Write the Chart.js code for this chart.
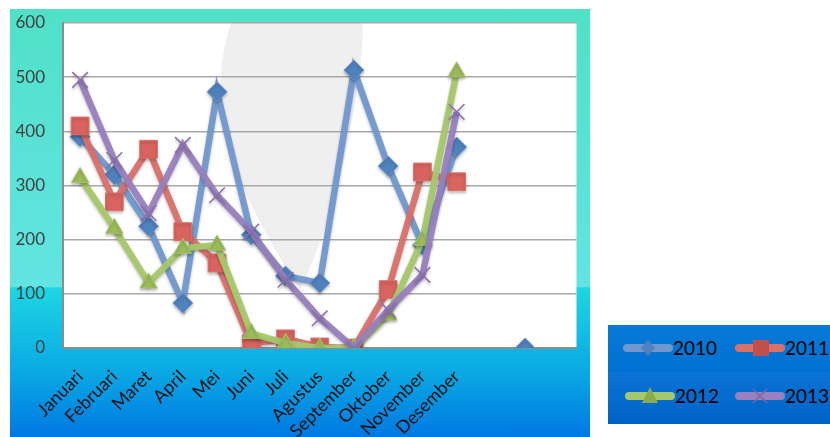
<!DOCTYPE html>
<html lang="id">
<head>
<meta charset="UTF-8">
<title>Grafik</title>
<style>
    body { margin: 0; width: 830px; height: 437px; background: #fff; position: relative; overflow: hidden; font-family: Lato, "Open Sans", sans-serif; }
    #panel {
        position: absolute; left: 10px; top: 9px; width: 580px; height: 428px;
        background: linear-gradient(to bottom, #50e0c8 0%, #62e4e2 65%, #1ed6e2 65.1%, #0aa8e4 85%, #0078e2 100%);
    }
    #myChart { position: absolute; left: 10px; top: 9px; }
    #legend {
        position: absolute; left: 608px; top: 325px; width: 222px; height: 99px;
        background: linear-gradient(to bottom, #0a7ad8 0%, #0070d2 47%, #0a74d6 48%, #0062c6 100%);
    }
    .item { position: absolute; height: 24px; font-size: 19px; color: #000; line-height: 24px; }
    .item svg { position: absolute; left: 0; top: 0; }
    .item span { position: absolute; left: 50px; top: 0; }
</style>
</head>
<body>
<div id="panel"></div>
<canvas id="myChart" width="580" height="428"></canvas>
<div id="legend"></div>

<script src="https://cdn.jsdelivr.net/npm/chart.js"></script>
<script>
    const labels = ['Januari', 'Februari', 'Maret', 'April', 'Mei', 'Juni', 'Juli', 'Agustus', 'September', 'Oktober', 'November', 'Desember', '', '', ''];
    const s2010 = [390, 320, 225, 83, 473, 209, 133, 120, 513, 336, 190, 371, null, 0, null];
    const s2011 = [410, 270, 367, 215, 157, 8, 17, 2, 0, 108, 325, 307, null, null, null];
    const s2012 = [315, 221, 120, 184, 190, 27, 9, 0, 0, 61, 199, 510, null, null, null];
    const s2013 = [495, 347, 249, 375, 282, 215, 126, 55, 0, 70, 135, 436, null, null, null];
    const seriesNames = ['2010', '2011', '2012', '2013'];
    const yTicks = [0, 100, 200, 300, 400, 500, 600];

    // white plot area + faint grey shape behind the lines
    const plotBg = {
        id: 'plotBg',
        beforeDraw(chart) {
            const { ctx, chartArea: a } = chart;
            ctx.save();
            ctx.fillStyle = '#ffffff';
            ctx.fillRect(a.left, a.top, a.right - a.left, a.bottom - a.top);
            ctx.beginPath();
            ctx.rect(a.left, a.top, a.right - a.left, a.bottom - a.top);
            ctx.clip();
            ctx.fillStyle = '#efefef';
            ctx.beginPath();
            ctx.moveTo(235, -18);
            ctx.bezierCurveTo(212, 20, 200, 90, 222, 150);
            ctx.bezierCurveTo(240, 200, 270, 250, 290, 281);
            ctx.bezierCurveTo(310, 240, 335, 170, 350, 60);
            ctx.bezierCurveTo(355, 20, 352, 0, 350, -18);
            ctx.closePath();
            ctx.fill();
            ctx.restore();
        },
        beforeDatasetsDraw(chart) {
            const ctx = chart.ctx;
            ctx.save();
            ctx.shadowColor = 'rgba(0,0,0,0.25)';
            ctx.shadowBlur = 3;
            ctx.shadowOffsetY = 2;
        },
        afterDatasetsDraw(chart) {
            chart.ctx.restore();
        }
    };

    function ds(name, data, line, point, style, radius, order) {
        return {
            label: name, data: data, order: order,
            borderColor: line, borderWidth: 6.5,
            pointStyle: style, pointRadius: radius, pointHoverRadius: radius,
            pointBackgroundColor: point, pointBorderColor: style === 'crossRot' ? point : line,
            pointBorderWidth: style === 'crossRot' ? 1.5 : 1,
            tension: 0, spanGaps: false, fill: false
        };
    }

    const ctx = document.getElementById('myChart');
    const myChart = new Chart(ctx, {
        type: 'line',
        data: {
            labels: labels,
            datasets: [
                ds(seriesNames[0], s2010, 'rgba(113,152,206,0.95)', '#4f81bd', 'rectRot', 10, 4),
                ds(seriesNames[1], s2011, 'rgba(218,112,106,0.95)', '#d9635e', 'rect', 12.5, 3),
                ds(seriesNames[2], s2012, 'rgba(166,200,108,0.95)', '#9bbb59', 'triangle', 10, 2),
                ds(seriesNames[3], s2013, 'rgba(152,128,190,0.95)', '#8a6fb0', 'crossRot', 11, 1)
            ]
        },
        options: {
            responsive: false,
            animation: false,
            layout: { padding: { left: 0, top: 14, right: 9, bottom: 0 } },
            plugins: { legend: { display: false }, tooltip: { enabled: false } },
            scales: {
                x: {
                    offset: true,
                    grid: { display: false, drawTicks: false },
                    border: { color: '#8c8c8c', width: 2 },
                    afterFit(scale) { scale.height = 89; scale.paddingLeft = 0; scale.paddingRight = 0; },
                    ticks: {
                        autoSkip: false, minRotation: 45, maxRotation: 45, padding: 18,
                        color: '#111', font: { family: 'Lato', size: 18 }
                    }
                },
                y: {
                    min: 0, max: 600,
                    afterFit(scale) { scale.width = 53; scale.paddingTop = 0; scale.paddingBottom = 0; },
                    afterBuildTicks(scale) { scale.ticks = yTicks.map(v => ({ value: v })); },
                    grid: { color: '#a8a8a8', lineWidth: 1.5, drawTicks: false },
                    border: { color: '#8c8c8c', width: 2 },
                    ticks: { padding: 18, color: '#404040', font: { family: 'Lato', size: 17 } }
                }
            }
        },
        plugins: [plotBg]
    });

    // legend
    const legendColors = [['#7198ce', '#4f81bd'], ['#da706a', '#c0504d'], ['#a6c86c', '#8aab4a'], ['#9880be', '#8064a2']];
    const markers = [
        c => `<polygon points="25,4 32,12 25,20 18,12" fill="${c}"/>`,
        c => `<rect x="18" y="4" width="16" height="16" fill="${c}"/>`,
        c => `<polygon points="25,3 33,19 17,19" fill="${c}"/>`,
        c => `<path d="M18,5 L32,19 M32,5 L18,19" stroke="${c}" stroke-width="1.5"/>`
    ];
    const pos = [[15, 11], [127, 11], [17, 59], [127, 59]];
    const legend = document.getElementById('legend');
    seriesNames.forEach((n, i) => {
        const d = document.createElement('div');
        d.className = 'item';
        d.style.left = pos[i][0] + 'px';
        d.style.top = pos[i][1] + 'px';
        d.innerHTML = `<svg width="50" height="24"><line x1="4" y1="12" x2="46" y2="12" stroke="${legendColors[i][0]}" stroke-width="8" stroke-linecap="round"/>${markers[i](legendColors[i][1])}</svg><span>${n}</span>`;
        legend.appendChild(d);
    });
</script>
</body>
</html>
